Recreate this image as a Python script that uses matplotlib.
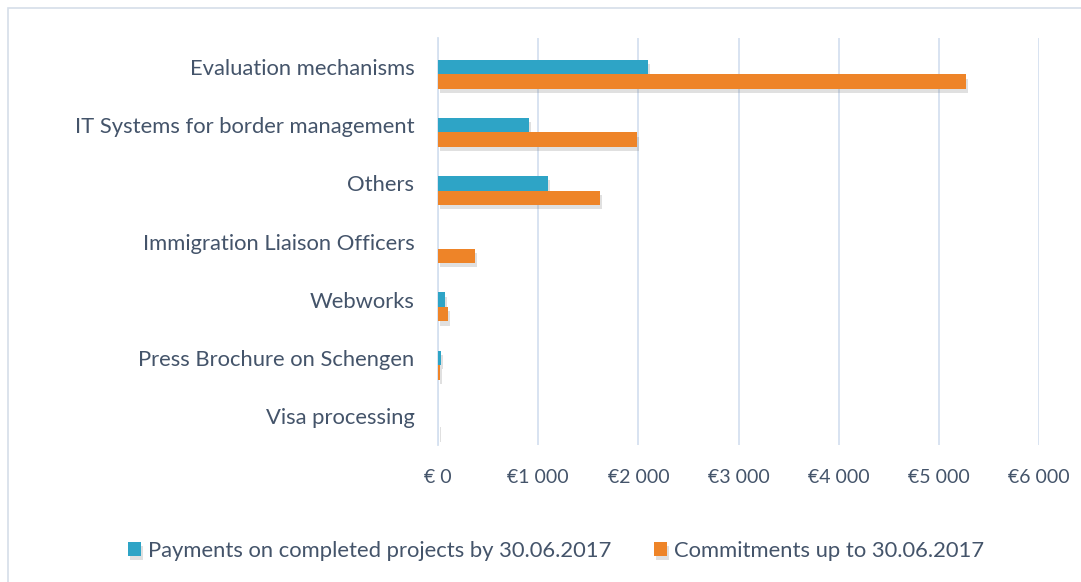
import matplotlib
matplotlib.use("Agg")
from matplotlib import pyplot as plt
from matplotlib import patheffects as pe
from matplotlib.patches import Rectangle

categories = [
    "Evaluation mechanisms",
    "IT Systems for border management",
    "Others",
    "Immigration Liaison Officers",
    "Webworks",
    "Press Brochure on Schengen",
    "Visa processing",
]
payments = [2100, 910, 1095, 0, 70, 25, 0]
commitments = [5270, 1990, 1620, 370, 100, 20, 4]
xticks = [0, 1000, 2000, 3000, 4000, 5000, 6000]
xtick_labels = ["€ 0", "€1 000", "€2 000", "€3 000", "€4 000", "€5 000", "€6 000"]
series_names = ["Payments on completed projects by 30.06.2017",
                "Commitments up to 30.06.2017"]

text_col = "#44546A"
grid_col = "#D5E1F0"
blue = "#2EA4C6"
orange = "#EE8428"

plt.rcParams["font.family"] = ["Lato", "DejaVu Sans"]

fig = plt.figure(figsize=(10.81, 5.82), dpi=100)
ax = fig.add_axes([0.4052, 0.2354, 0.556, 0.6993])

# chart frame (only top/left edge visible in the crop)
fig.patches.append(Rectangle((8 / 1081, -0.1), 1.2, 1 - 8 / 582 + 0.1,
                             transform=fig.transFigure, fill=False,
                             edgecolor="#D6DEE9", linewidth=1.2))

y = list(range(len(categories)))
h = 0.25
shadow = [pe.SimplePatchShadow(offset=(1.5, -3), shadow_rgbFace="#666666", alpha=0.2),
          pe.Normal()]
b1 = ax.barh(y, payments, height=h, color=blue, zorder=3, label=series_names[0])
b2 = ax.barh([v + h for v in y], commitments, height=h, color=orange, zorder=3,
             label=series_names[1])
for p in list(b1) + list(b2):
    p.set_path_effects(shadow)

ax.set_ylim(len(categories) - 0.5, -0.5)
ax.set_xlim(0, 6000)
ax.set_yticks(y)
ax.set_yticklabels(categories, fontsize=15.8)
ax.set_xticks(xticks)
ax.set_xticklabels(xtick_labels, fontsize=14)
ax.tick_params(axis="both", length=0, labelcolor=text_col)
ax.tick_params(axis="y", pad=17)
ax.tick_params(axis="x", pad=17)
ax.xaxis.grid(True, color=grid_col, linewidth=1.3, zorder=0)
ax.set_axisbelow(True)
for s in ["top", "right", "bottom"]:
    ax.spines[s].set_visible(False)
ax.spines["left"].set_color(grid_col)
ax.spines["left"].set_linewidth(1.3)

fig.legend(handles=[b1, b2], labels=series_names, loc="center",
           bbox_to_anchor=(556 / 1081, 1 - 551 / 582), ncol=2, frameon=False,
           fontsize=15.8, labelcolor=text_col, handlelength=0.6, handleheight=0.6,
           handletextpad=0.3, columnspacing=1.95)

fig.savefig("out.png", dpi=100)
